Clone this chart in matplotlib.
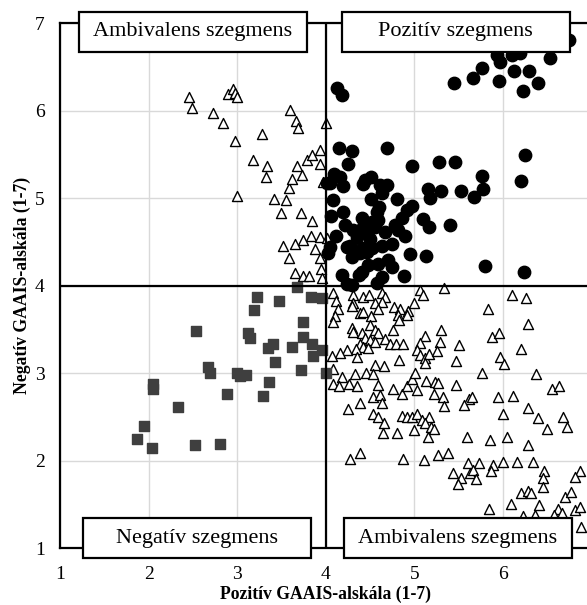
import matplotlib.pyplot as plt
from matplotlib.patches import Rectangle

# pozitiv szegmens (kitoltott korok)
pos_x = [6.74, 5.93, 5.97, 6.10, 6.19, 6.53, 5.76, 5.66, 5.45, 5.95, 6.12, 6.29, 6.40, 6.23,
         4.13, 4.18, 4.69, 4.15, 4.30, 4.25, 4.97, 5.28, 5.46, 6.25, 6.20, 5.76, 5.77, 5.67,
         5.53, 5.30, 5.15, 5.18, 5.10, 5.17, 5.40, 5.13, 5.80, 6.24,
         4.09, 4.16, 4.05, 4.19, 4.44, 4.51, 4.42, 4.61, 4.69, 4.63, 4.08, 4.51, 4.80, 4.60,
         4.58, 4.92, 4.97, 4.06, 4.19, 4.41, 4.86, 4.22, 4.31, 4.42, 4.52, 4.59, 4.56, 4.46,
         4.67, 4.78, 4.81, 4.89, 4.11, 4.35, 4.50, 4.27, 4.24, 4.63, 4.75, 4.41, 4.52, 4.05,
         4.03, 4.30, 4.39, 4.46, 4.95, 4.70, 4.48, 4.59, 4.75, 4.18, 4.37, 4.41, 4.63, 4.88,
         4.24, 4.30, 4.58, 4.01]
pos_y = [6.81, 6.64, 6.56, 6.64, 6.66, 6.60, 6.49, 6.38, 6.32, 6.34, 6.45, 6.46, 6.32, 6.23,
         6.26, 6.18, 5.57, 5.58, 5.54, 5.39, 5.37, 5.41, 5.41, 5.50, 5.20, 5.25, 5.11, 5.02,
         5.08, 5.08, 5.11, 5.00, 4.76, 4.67, 4.69, 4.34, 4.23, 4.16,
         5.28, 5.24, 5.17, 5.14, 5.21, 5.24, 5.16, 5.15, 5.15, 5.06, 4.98, 4.99, 4.99, 4.90,
         4.84, 4.87, 4.91, 4.80, 4.84, 4.77, 4.78, 4.70, 4.64, 4.67, 4.73, 4.75, 4.67, 4.61,
         4.61, 4.69, 4.64, 4.57, 4.57, 4.56, 4.54, 4.46, 4.44, 4.46, 4.48, 4.43, 4.43, 4.44,
         4.37, 4.33, 4.37, 4.39, 4.36, 4.30, 4.24, 4.25, 4.21, 4.12, 4.12, 4.16, 4.10, 4.11,
         4.02, 4.01, 4.03, 5.17]

# negativ szegmens (negyzetek)
neg_x = [2.54, 3.22, 3.19, 3.47, 3.67, 3.83, 3.96, 3.74, 3.12, 3.14, 3.74, 3.85, 3.62, 3.40,
         3.35, 3.86, 3.96, 3.43, 2.67, 2.69, 3.00, 3.03, 3.10, 3.72, 4.00, 2.05, 2.05, 3.36,
         2.88, 3.29, 2.33, 1.95, 1.87, 2.04, 2.52, 2.81]
neg_y = [3.48, 3.87, 3.72, 3.83, 3.99, 3.87, 3.86, 3.59, 3.46, 3.40, 3.41, 3.34, 3.30, 3.33,
         3.29, 3.20, 3.27, 3.13, 3.07, 3.00, 3.00, 2.97, 2.98, 3.04, 3.00, 2.88, 2.82, 2.90,
         2.76, 2.74, 2.62, 2.40, 2.25, 2.15, 2.18, 2.19]

# ambivalens szegmens (ures haromszogek)
amb_x = [2.46, 2.49, 2.73, 2.84, 2.90, 2.95, 2.97, 3.00, 2.98, 3.00, 3.28, 3.18, 3.34, 3.33,
         3.60, 3.66, 3.69, 3.41, 3.55, 3.49, 3.58, 3.62, 3.68, 3.73, 3.79, 3.85, 3.93, 3.93,
         3.97, 4.00, 3.72, 3.84, 3.83, 3.93, 3.52, 3.65, 3.74, 3.88, 3.58, 3.93, 3.65, 3.74,
         3.81, 3.95, 3.96, 4.01,
         4.08, 4.12, 4.31, 4.42, 4.49, 4.63, 4.67, 4.63, 4.56, 4.31, 4.30, 4.14, 4.59, 4.77,
         4.84, 4.93, 4.92, 4.81, 5.00, 5.06, 5.10, 5.33, 4.39, 4.42, 4.51, 4.10, 4.08, 4.83,
         4.50, 4.30, 4.31, 4.41, 4.56, 4.59, 4.76, 4.44, 4.50, 4.56, 4.67, 4.73, 4.79, 4.87,
         5.12, 5.06, 5.30, 5.29, 4.39, 4.42, 4.48, 4.34, 4.24, 4.16, 4.07, 4.35, 5.03, 5.06,
         5.12, 5.17, 5.25, 5.50, 5.47, 4.83, 5.12, 4.08, 4.56, 4.66, 4.33, 4.45, 4.53, 4.18,
         4.08, 4.15, 4.26, 4.35, 4.59, 4.76, 4.86, 4.92, 4.97, 5.01, 5.03, 5.13, 5.23, 5.27,
         5.22, 5.32, 5.47, 5.62, 5.56, 5.33, 4.53, 4.61, 4.63, 4.39, 4.25, 4.53, 4.59, 4.66,
         4.65, 4.80, 4.86, 4.92, 4.97, 5.03, 5.09, 5.17, 5.12, 5.19, 5.22, 5.00, 5.15, 5.59,
         6.10, 6.26, 5.83, 6.28, 5.88, 5.96, 6.20, 5.97, 6.01, 5.76, 6.37, 6.55, 6.63, 5.65,
         5.94, 6.11, 6.00, 6.28, 6.40, 6.50, 6.68, 6.72, 5.85, 6.05, 6.28, 4.27, 4.39, 4.87,
         5.11, 5.27, 5.38, 5.60, 5.73, 5.89, 6.00, 6.16, 6.34, 5.44, 5.53, 5.49, 5.63, 5.66,
         5.69, 5.87, 6.46, 6.45, 6.45, 6.87, 6.81, 6.20, 6.28, 6.32, 6.09, 5.84, 6.41, 6.70,
         6.77, 6.62, 6.81, 6.87, 6.23, 6.36, 6.58, 6.67, 6.88]
amb_y = [6.16, 6.03, 5.97, 5.86, 6.19, 6.25, 6.20, 6.16, 5.65, 5.03, 5.73, 5.44, 5.37, 5.24,
         6.01, 5.88, 5.80, 4.99, 4.98, 4.83, 5.12, 5.22, 5.37, 5.27, 5.44, 5.50, 5.55, 5.39,
         5.19, 5.86, 4.83, 4.74, 4.57, 4.56, 4.45, 4.48, 4.52, 4.42, 4.32, 4.32, 4.15, 4.11,
         4.11, 4.19, 4.09, 4.55,
         3.92, 3.83, 3.90, 3.87, 3.90, 3.92, 3.87, 3.82, 3.80, 3.80, 3.77, 3.74, 3.73, 3.76,
         3.73, 3.71, 3.67, 3.67, 3.80, 3.95, 3.90, 3.98, 3.69, 3.70, 3.65, 3.65, 3.59, 3.61,
         3.55, 3.52, 3.47, 3.46, 3.49, 3.46, 3.50, 3.40, 3.38, 3.36, 3.39, 3.34, 3.34, 3.34,
         3.43, 3.35, 3.49, 3.36, 3.34, 3.30, 3.29, 3.28, 3.27, 3.23, 3.20, 3.19, 3.27, 3.21,
         3.17, 3.22, 3.26, 3.32, 3.14, 3.15, 3.12, 3.05, 3.09, 3.08, 2.99, 3.00, 2.99, 2.96,
         2.88, 2.85, 2.88, 2.86, 2.87, 2.82, 2.76, 2.85, 2.94, 3.00, 2.81, 2.91, 2.90, 2.89,
         2.76, 2.73, 2.87, 2.71, 2.64, 2.63, 2.73, 2.75, 2.66, 2.66, 2.59, 2.53, 2.50, 2.43,
         2.32, 2.32, 2.51, 2.50, 2.50, 2.54, 2.47, 2.50, 2.43, 2.39, 2.36, 2.35, 2.27, 2.27,
         3.90, 3.86, 3.73, 3.56, 3.41, 3.46, 3.28, 3.19, 3.11, 3.00, 2.99, 2.82, 2.85, 2.73,
         2.73, 2.74, 2.53, 2.60, 2.49, 2.36, 2.50, 2.39, 2.24, 2.27, 2.18, 2.02, 2.09, 2.02,
         2.01, 2.07, 2.09, 1.98, 1.97, 1.95, 1.99, 1.99, 1.99, 1.86, 1.80, 1.73, 1.86, 1.89,
         1.79, 1.88, 1.88, 1.80, 1.70, 1.88, 1.81, 1.63, 1.66, 1.63, 1.51, 1.45, 1.50, 1.59,
         1.64, 1.45, 1.44, 1.47, 1.37, 1.38, 1.38, 1.40, 1.24]

xticks = [1, 2, 3, 4, 5, 6]   # 7 falls outside the cropped picture
yticks = [1, 2, 3, 4, 5, 6, 7]
box_labels = ['Ambivalens szegmens', 'Pozitív szegmens', 'Negatív szegmens', 'Ambivalens szegmens']

plt.rcParams['font.family'] = 'Liberation Serif'

fig = plt.figure(figsize=(5.87, 6.05), dpi=100)
ax = fig.add_axes([0.1022, 0.0937, 0.9056, 0.8678])

ax.scatter(amb_x, amb_y, marker='^', s=52, facecolors='white', edgecolors='black', linewidths=1.0, zorder=3)
ax.scatter(neg_x, neg_y, marker='s', s=45, color='#3f3f3f', zorder=3)
ax.scatter(pos_x, pos_y, marker='o', s=80, color='black', zorder=4)

ax.set_xlim(1, 7)
ax.set_ylim(1, 7)
ax.set_xticks(xticks)
ax.set_yticks(yticks)
ax.grid(True, color='#d9d9d9', linewidth=1.0, zorder=0)
ax.axvline(7, color='#d9d9d9', lw=1.0, zorder=0)
ax.set_axisbelow(True)
ax.tick_params(length=0, labelsize=14)
ax.tick_params(axis='x', pad=13)
ax.tick_params(axis='y', pad=11)

for side in ['left', 'bottom', 'top']:
    ax.spines[side].set_linewidth(1.6)
ax.spines['right'].set_visible(False)

ax.axvline(4, color='black', lw=1.6, zorder=5)
ax.axhline(4, color='black', lw=1.6, zorder=5)

ax.set_xlabel('Pozitív GAAIS-alskála (1-7)', fontsize=12.7, fontweight='bold', labelpad=2)
ax.set_ylabel('Negatív GAAIS-alskála (1-7)', fontsize=12.7, fontweight='bold', labelpad=3)

# cimke dobozok
box_x0 = [1.214, 4.183, 1.26, 4.205]
box_y0 = [6.672, 6.672, 0.889, 0.889]
bw, bh = 2.57, 0.457
for x0, y0, txt in zip(box_x0, box_y0, box_labels):
    ax.add_patch(Rectangle((x0, y0), bw, bh, facecolor='white', edgecolor='black',
                           linewidth=1.6, clip_on=False, zorder=10))
    ax.text(x0 + bw / 2, y0 + bh / 2, txt, ha='center', va='center', fontsize=16,
            zorder=11, clip_on=False)

fig.savefig('out.png', dpi=100)
